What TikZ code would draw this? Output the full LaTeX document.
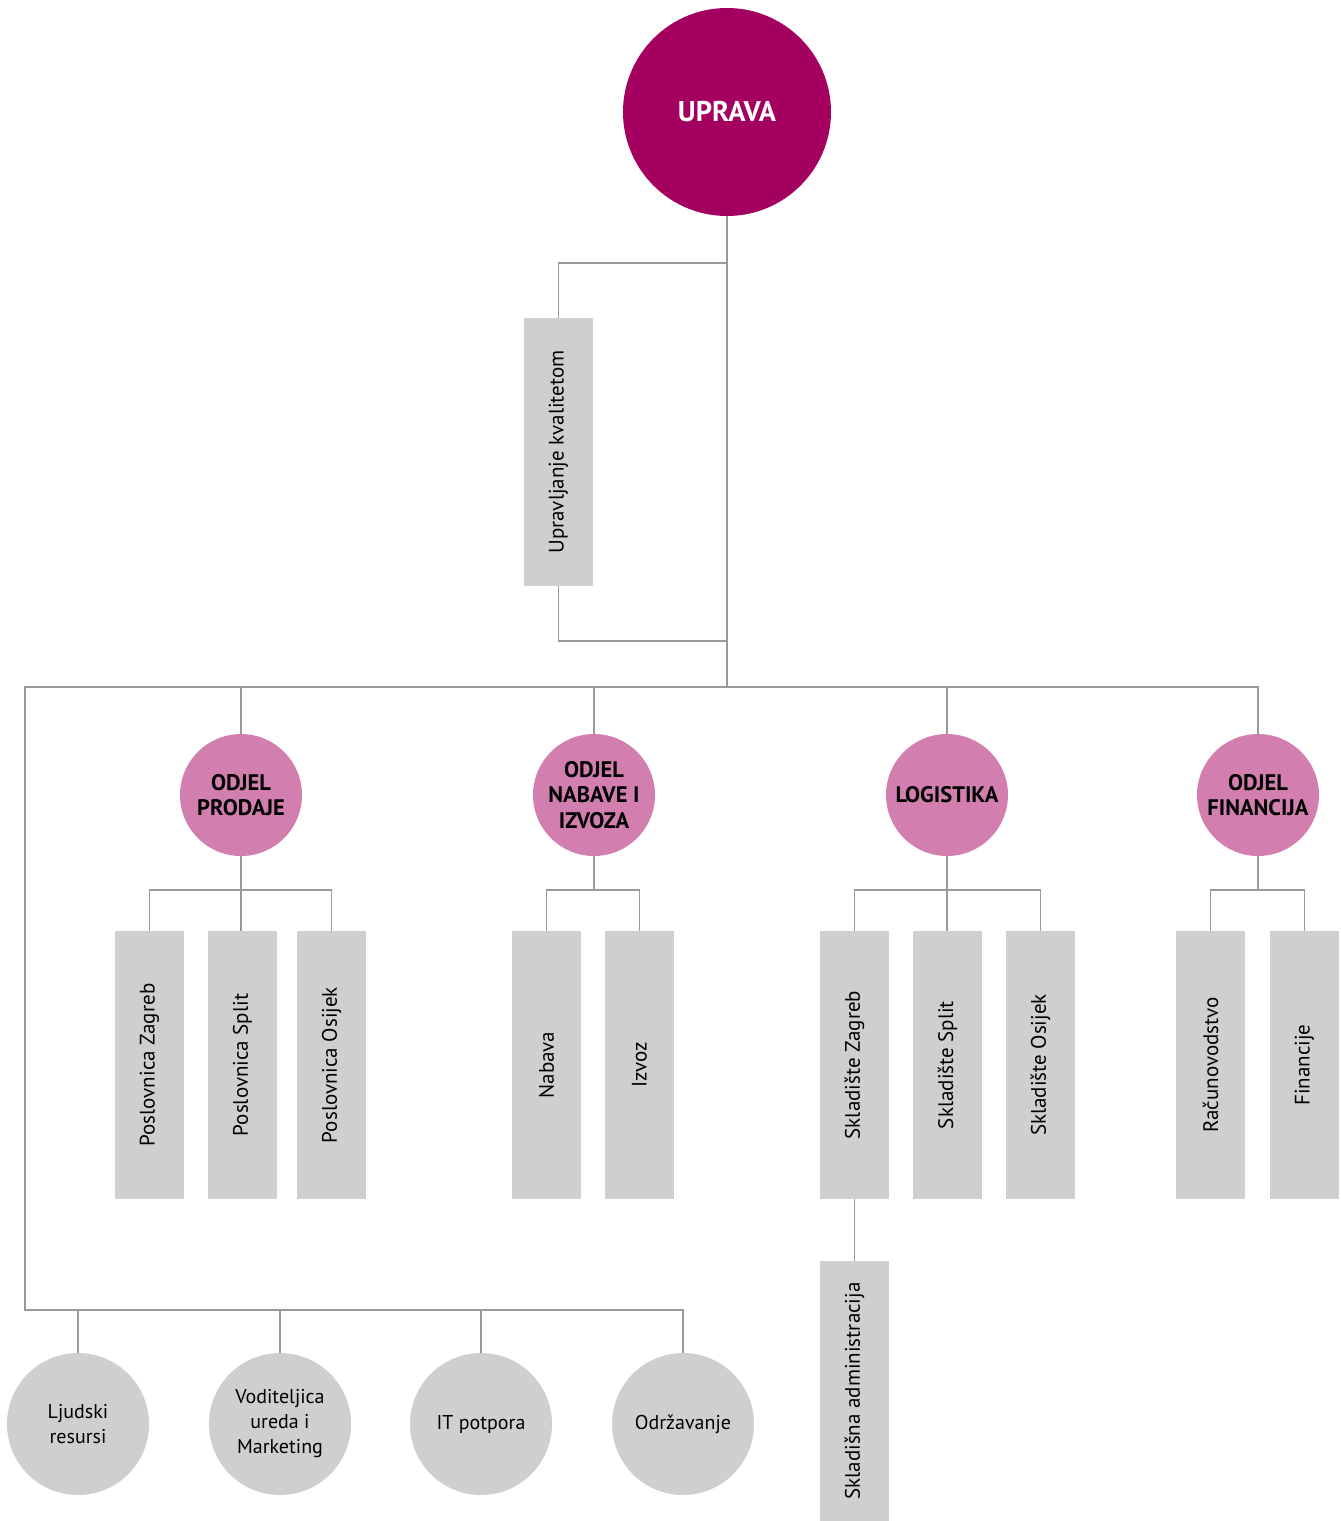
\documentclass[tikz,border=0pt]{standalone}
\usepackage{fontspec}
\setmainfont{PT Sans}
\usepackage{tikz}
\usepackage{xcolor}
\definecolor{upravacol}{HTML}{A3005F}
\definecolor{odjelcol}{HTML}{D27FB0}
\definecolor{boxcol}{HTML}{D0CFCF}
\definecolor{linecol}{HTML}{9A9A9A}

\begin{document}
\begin{tikzpicture}[x=1pt, y=-1pt,
  topnode/.style={circle, fill=upravacol, text=white, inner sep=0pt, minimum size=208pt, font=\fontsize{28.5}{30}\selectfont\bfseries},
  odjelnode/.style={circle, fill=odjelcol, inner sep=0pt, minimum size=122pt, align=center, font=\fontsize{22.5}{25.5}\selectfont\bfseries},
  sluzbanode/.style={circle, fill=boxcol, inner sep=0pt, minimum size=142pt, align=center, font=\fontsize{20}{25}\selectfont},
  jedinica/.style={rectangle, fill=boxcol, rotate=90, inner sep=0pt, minimum width=268pt, minimum height=69pt, font=\fontsize{21}{24}\selectfont}]
\tikzset{veza/.style = {draw=linecol, line width=1.6pt}}
\useasboundingbox (0,0) rectangle (1341,1521);
\node[topnode] (uprava) at (727,112) {UPRAVA};
\node[jedinica] (kval) at (558.5,452) {Upravljanje kvalitetom};
\node[odjelnode] (prod) at (241,795) {ODJEL\\PRODAJE};
\node[odjelnode] (nab) at (594,795) {ODJEL\\NABAVE I\\IZVOZA};
\node[odjelnode] (log) at (947,795) {LOGISTIKA};
\node[odjelnode] (fin) at (1258,795) {ODJEL\\FINANCIJA};
\node[jedinica] (pz) at (149.5,1065) {Poslovnica Zagreb};
\node[jedinica] (ps) at (242.5,1065) {Poslovnica Split};
\node[jedinica] (po) at (331.5,1065) {Poslovnica Osijek};
\node[jedinica] (nabava) at (546.5,1065) {Nabava};
\node[jedinica] (izvoz) at (639.5,1065) {Izvoz};
\node[jedinica] (sz) at (854.5,1065) {Skladište Zagreb};
\node[jedinica] (ss) at (947.5,1065) {Skladište Split};
\node[jedinica] (so) at (1040.5,1065) {Skladište Osijek};
\node[jedinica] (rac) at (1210.5,1065) {Računovodstvo};
\node[jedinica] (financije) at (1304.5,1065) {Financije};
\node[jedinica, minimum width=260pt] (sa) at (854.5,1391) {Skladišna administracija};
\node[sluzbanode] (hr) at (78,1424) {Ljudski\\resursi};
\node[sluzbanode] (vod) at (280,1424) {Voditeljica\\ureda i\\Marketing};
\node[sluzbanode] (it) at (481,1424) {IT potpora};
\node[sluzbanode] (odr) at (683,1424) {Održavanje};
\coordinate (k1) at (727,263);
\coordinate (k2) at (727,641);
\coordinate (lt) at (25,687);
\coordinate (lb) at (25,1310);
\draw[veza] (uprava.south) -- (uprava.south |- lt);
\draw[veza] (k1) -| (kval.east);
\draw[veza] (kval.west) |- (k2);
\draw[veza] (odr.north) |- (lb) -- (lt) -| (fin.north);
\draw[veza] (prod.north) -- (prod.north |- lt);
\draw[veza] (nab.north) -- (nab.north |- lt);
\draw[veza] (log.north) -- (log.north |- lt);
\draw[veza] (hr.north) -- (hr.north |- lb);
\draw[veza] (vod.north) -- (vod.north |- lb);
\draw[veza] (it.north) -- (it.north |- lb);
\draw[veza] (prod.south) -- (prod.south |- ps.east);
\draw[veza] (pz.east) -- ++(0,-41) -| (po.east);
\draw[veza] (nab.south) -- ++(0,34);
\draw[veza] (nabava.east) -- ++(0,-41) -| (izvoz.east);
\draw[veza] (log.south) -- (log.south |- ss.east);
\draw[veza] (sz.east) -- ++(0,-41) -| (so.east);
\draw[veza] (sz.west) -- (sa.east);
\draw[veza] (fin.south) -- ++(0,34);
\draw[veza] (rac.east) -- ++(0,-41) -| (financije.east);
\end{tikzpicture}
\end{document}
